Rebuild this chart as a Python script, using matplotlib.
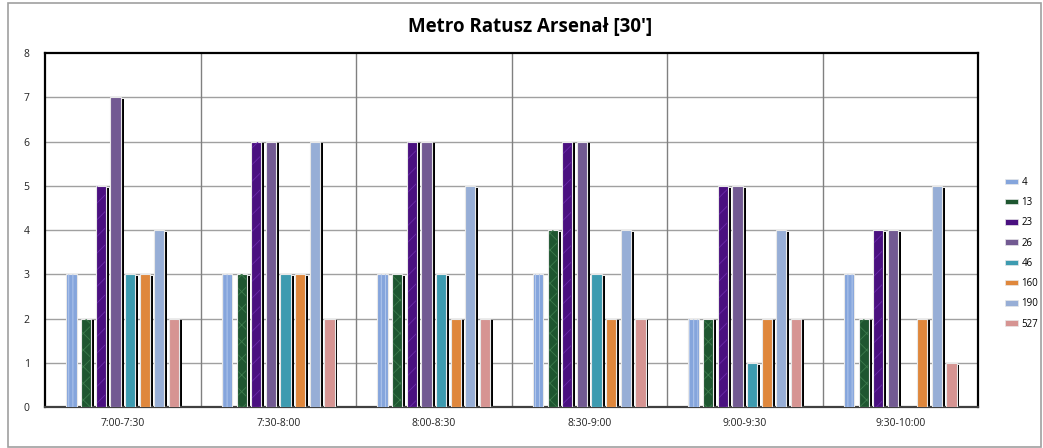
import numpy as np
import matplotlib
matplotlib.use('Agg')
import matplotlib.pyplot as plt
from matplotlib.patches import Rectangle, Patch

# data
slots = ["7:00-7:30", "7:30-8:00", "8:00-8:30", "8:30-9:00", "9:00-9:30", "9:30-10:00"]
lines = ["4", "13", "23", "26", "46", "160", "190", "527"]
v4 = [3, 3, 3, 3, 2, 3]
v13 = [2, 3, 3, 4, 2, 2]
v23 = [5, 6, 6, 6, 5, 4]
v26 = [7, 6, 6, 6, 5, 4]
v46 = [3, 3, 3, 3, 1, 0]
v160 = [3, 3, 2, 2, 2, 2]
v190 = [4, 6, 5, 4, 4, 5]
v527 = [2, 2, 2, 2, 2, 1]
values = [v4, v13, v23, v26, v46, v160, v190, v527]

colors = ["#85A5DC", "#1E5630", "#4A1080", "#725A92", "#3D9BB0", "#DF873C", "#97AED6", "#D69492"]
textures = ["||||", "xx", "//", None, None, None, None, None]
tex_colors = ["#B8CCEE", "#3C7A4C", "#6A2AA8", None, None, None, None, None]
shadow = [False, True, True, True, True, True, True, True]

plt.rcParams['font.family'] = ['Open Sans', 'DejaVu Sans']
plt.rcParams['hatch.linewidth'] = 0.6

fig = plt.figure(figsize=(10.43, 4.48), dpi=100)
ax = fig.add_axes([45 / 1043, 41 / 448, 933 / 1043, 354 / 448])

x = np.arange(len(slots))
slot_w = 0.094
bar_w = 0.066
dx = 0.019
dy = 0.045

for i, (name, vals) in enumerate(zip(lines, values)):
    pos = x + (i - 3.5) * slot_w
    vals = np.array(vals, dtype=float)
    if shadow[i]:
        h = np.where(vals > 0, vals - dy, 0)
        ax.bar(pos + dx, h, bar_w, color="black", zorder=2, linewidth=0)
    ax.bar(pos, vals, bar_w, color=colors[i], edgecolor="#E8E8E8", linewidth=0.8, zorder=3)
    if textures[i]:
        ax.bar(pos, vals, bar_w * 0.8, color="none", edgecolor=tex_colors[i],
               hatch=textures[i], linewidth=0, zorder=4)

ax.set_xlim(-0.5, len(slots) - 0.5)
ax.set_ylim(0, 8)
ax.set_yticks(range(0, 9))
ax.set_xticks(x)
ax.set_xticklabels(slots)
ax.tick_params(length=0, labelsize=7.5, pad=8, labelcolor="#222222")
ax.tick_params(axis="y", pad=11)

for yy in range(1, 8):
    ax.axhline(yy, color="#A0A0A0", linewidth=1.0, zorder=1)
for xb in x[1:] - 0.5:
    ax.axvline(xb, color="#808080", linewidth=1.0, zorder=1)

for side in ["top", "right", "left"]:
    ax.spines[side].set_linewidth(1.6)
    ax.spines[side].set_color("black")
ax.spines["bottom"].set_linewidth(1.6)
ax.spines["bottom"].set_color("#404040")

fig.text(0.508, 0.94, "Metro Ratusz Arsenał [30']", ha="center", va="center",
         fontsize=13.5, fontweight="bold")

handles = [Patch(facecolor=c, edgecolor="#E8E8E8", linewidth=0.5) for c in colors]
fig.legend(handles, lines, loc="upper left", bbox_to_anchor=(1001 / 1043, 1 - 173 / 448),
           frameon=False, fontsize=7, handlelength=1.3, handleheight=0.5,
           handletextpad=0.4, labelspacing=0.95, borderaxespad=0)

# outer chart border
fig.add_artist(Rectangle((8 / 1043, 1 / 448), 1033 / 1043, 444 / 448, transform=fig.transFigure,
                         fill=False, edgecolor="#A0A0A0", linewidth=1.2))

fig.savefig("out.png", dpi=100)
plt.close(fig)
